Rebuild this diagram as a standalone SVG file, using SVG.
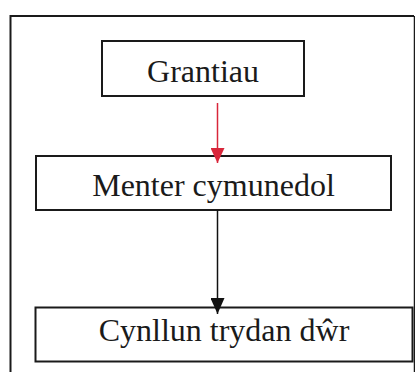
<svg xmlns="http://www.w3.org/2000/svg" width="415" height="372" viewBox="0 0 415 372">
<style>
.box{fill:#fff;stroke:#1a1a1a;stroke-width:2}
.lbl{font-family:"Liberation Serif","Times New Roman",serif;font-size:32px;fill:#1a1a1a;text-anchor:middle}
</style>
<defs>
<marker id="ar" viewBox="0 0 15 14" refX="15" refY="7" markerWidth="15" markerHeight="14" markerUnits="userSpaceOnUse" orient="auto"><path d="M0,0 L15,7 L0,14 Z" fill="#d8263a"/></marker>
<marker id="ab" viewBox="0 0 16 14" refX="16" refY="7" markerWidth="16" markerHeight="14" markerUnits="userSpaceOnUse" orient="auto"><path d="M0,0 L16,7 L0,14 Z" fill="#111"/></marker>
</defs>
<rect x="0" y="0" width="415" height="372" fill="#fff"/>
<path d="M10.5,380 V16 H414" fill="none" stroke="#1a1a1a" stroke-width="2"/>
<line x1="414.5" y1="16" x2="414.5" y2="372" stroke="#1a1a1a" stroke-width="1.5"/>
<g id="grantiau">
<rect class="box" x="102" y="41" width="202" height="55"/>
<text class="lbl" x="203" y="82">Grantiau</text>
</g>
<g id="menter">
<rect class="box" x="36" y="156" width="355" height="54"/>
<text class="lbl" x="213.5" y="195.5">Menter cymunedol</text>
</g>
<g id="cynllun">
<rect class="box" x="35.5" y="307.5" width="377" height="54"/>
<text class="lbl" x="224" y="341">Cynllun trydan dŵr</text>
</g>
<g id="connectors">
<line x1="217.5" y1="103" x2="217.5" y2="163" stroke="#d8263a" stroke-width="1.5" marker-end="url(#ar)"/>
<line x1="217.5" y1="210" x2="217.5" y2="314" stroke="#111" stroke-width="1.5" marker-end="url(#ab)"/>
</g>
</svg>
